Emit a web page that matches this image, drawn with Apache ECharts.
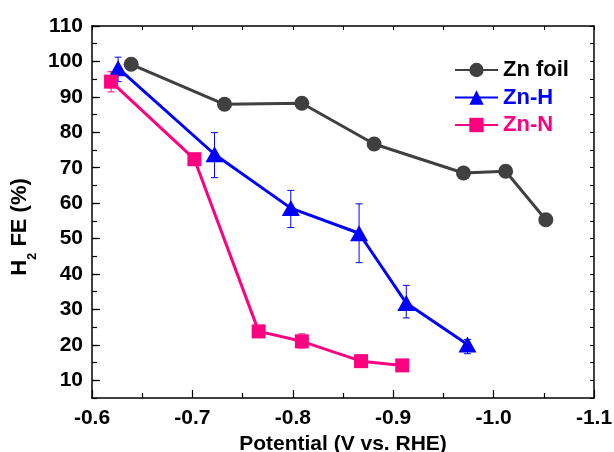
<!DOCTYPE html>
<html><head><meta charset="utf-8">
<script src="https://cdn.jsdelivr.net/npm/echarts@6/dist/echarts.min.js"></script>
<style>html,body{margin:0;padding:0;background:#fff}#c{width:614px;height:452px}</style>
</head><body><div id="c"></div>
<script>
// ---- data ----
const seriesNames = ['Zn foil', 'Zn-H', 'Zn-N'];
const foilX = [-0.639, -0.732, -0.809, -0.881, -0.970, -1.012, -1.052];
const foilY = [99.2, 87.9, 88.2, 76.7, 68.5, 69.0, 55.3];
const zhX = [-0.626, -0.722, -0.798, -0.866, -0.913, -0.974];
const zhY = [98.1, 73.8, 58.6, 51.5, 31.8, 20.1];
const zhErrHi = [101.2, 79.9, 63.6, 59.8, 36.8, 21.5];
const zhErrLo = [94.3, 67.2, 53.1, 43.2, 27.6, 17.5];
const znX = [-0.619, -0.702, -0.766, -0.809, -0.868, -0.909];
const znY = [94.3, 72.4, 23.8, 21.0, 15.4, 14.2];
const znErrHi = [97.1, 73.4, 24.8, 23.1, 16.0, 14.8];
const znErrLo = [91.4, 71.4, 22.8, 19.1, 14.8, 13.6];
const xTickLabels = ['-0.6', '-0.7', '-0.8', '-0.9', '-1.0', '-1.1'];
const yTickLabels = ['10', '20', '30', '40', '50', '60', '70', '80', '90', '100', '110'];
const X_MIN = -1.1, X_MAX = -0.6;
const Y_MIN = 5, Y_MAX = 110;

// ---- styles ----
const FONT = '"Liberation Sans", Arial, sans-serif';
const cGray = '#404040', cBlue = '#0000ff', cPink = '#ff0080';

function lookup(labels, v) {
  for (const l of labels) { if (Math.abs(parseFloat(l) - v) < 1e-6) return l; }
  return '';
}

function errSeries(xs, lo, hi, color) {
  return {
    type: 'custom', xAxisIndex: 0, yAxisIndex: 0, z: 1, silent: true,
    data: xs.map((x, i) => [x, lo[i], hi[i]]),
    encode: { x: 0, y: [1, 2] },
    renderItem(params, api) {
      const x = api.value(0);
      const p1 = api.coord([x, api.value(1)]);
      const p2 = api.coord([x, api.value(2)]);
      const w = 3.5;
      const st = { stroke: color, lineWidth: 1 };
      return { type: 'group', children: [
        { type: 'line', shape: { x1: p1[0], y1: p1[1], x2: p2[0], y2: p2[1] }, style: st },
        { type: 'line', shape: { x1: p1[0] - w, y1: p1[1], x2: p1[0] + w, y2: p1[1] }, style: st },
        { type: 'line', shape: { x1: p2[0] - w, y1: p2[1], x2: p2[0] + w, y2: p2[1] }, style: st }
      ]};
    }
  };
}

function lineSeries(name, xs, ys, color, symbol, size) {
  return {
    name, type: 'line', xAxisIndex: 0, yAxisIndex: 0, z: 3,
    data: xs.map((x, i) => [x, ys[i]]),
    symbol, symbolSize: size, showSymbol: true,
    itemStyle: { color },
    lineStyle: { color, width: 3 }
  };
}

const axisLineStyle = { color: '#000', width: 1.5 };

const chart = echarts.init(document.getElementById('c'), null, { renderer: 'canvas' });
chart.setOption({
  animation: false,
  backgroundColor: '#fff',
  grid: { left: 92, right: 20, top: 26, bottom: 54, containLabel: false, outerBoundsMode: 'none' },
  xAxis: [
    {
      type: 'value', position: 'bottom', min: X_MIN, max: X_MAX, interval: 0.1, inverse: true,
      axisLine: { show: true, onZero: false, lineStyle: axisLineStyle },
      axisTick: { show: true, inside: true, length: 8, lineStyle: { color: '#000', width: 1.2 } },
      minorTick: { show: true, splitNumber: 2, length: 5, lineStyle: { color: '#000', width: 1.2 } },
      splitLine: { show: false },
      axisLabel: { show: true, margin: 10, color: '#000', fontSize: 21, fontWeight: 'bold', fontFamily: FONT,
        formatter: v => lookup(xTickLabels, v) },
      name: 'Potential (V vs. RHE)', nameLocation: 'middle', nameGap: 33,
      nameTextStyle: { color: '#000', fontSize: 21, fontWeight: 'bold', fontFamily: FONT }
    },
    {
      type: 'value', position: 'top', min: X_MIN, max: X_MAX, interval: 0.05, inverse: true,
      axisLine: { show: true, onZero: false, lineStyle: axisLineStyle },
      axisTick: { show: true, inside: true, length: 4, lineStyle: { color: '#000', width: 1 } },
      splitLine: { show: false }, axisLabel: { show: false }
    }
  ],
  yAxis: [
    {
      type: 'value', position: 'left', min: Y_MIN, max: Y_MAX, interval: 5,
      axisLine: { show: true, onZero: false, lineStyle: axisLineStyle },
      axisTick: { show: true, inside: true, length: 5, lineStyle: { color: '#000', width: 1.2 } },
      splitLine: { show: false }, axisLabel: { show: false }
    },
    {
      // decoration axis: major ticks + labels (value measured down from the top)
      type: 'value', position: 'left', min: 0, max: Y_MAX - Y_MIN, interval: 10, inverse: true,
      axisLine: { show: false },
      axisTick: { show: true, inside: true, length: 8, lineStyle: { color: '#000', width: 1.2 } },
      splitLine: { show: false },
      axisLabel: { show: true, margin: 9, color: '#000', fontSize: 21, fontWeight: 'bold', fontFamily: FONT,
        showMaxLabel: false, formatter: v => lookup(yTickLabels, Y_MAX - v) }
    },
    {
      type: 'value', position: 'right', min: Y_MIN, max: Y_MAX, interval: 5,
      axisLine: { show: true, onZero: false, lineStyle: axisLineStyle },
      axisTick: { show: true, inside: true, length: 4, lineStyle: { color: '#000', width: 1 } },
      splitLine: { show: false }, axisLabel: { show: false }
    }
  ],
  legend: {
    orient: 'vertical', left: 449, top: 54, itemWidth: 43, itemHeight: 18, itemGap: 5.5,
    textStyle: { fontSize: 22, fontWeight: 'bold', fontFamily: FONT, lineHeight: 22 },
    data: [
      { name: seriesNames[0], textStyle: { color: '#000' } },
      { name: seriesNames[1], textStyle: { color: cBlue } },
      { name: seriesNames[2], textStyle: { color: cPink } }
    ]
  },
  graphic: [{
    type: 'text', x: 24, y: 227, rotation: Math.PI / 2,
    style: {
      text: '{a|H}{s|2}{a| FE (%)}',
      align: 'center', verticalAlign: 'middle',
      rich: {
        a: { fontSize: 22, fontWeight: 'bold', fontFamily: FONT, fill: '#000', lineHeight: 30, verticalAlign: 'top' },
        s: { fontSize: 13, fontWeight: 'bold', fontFamily: FONT, fill: '#000', lineHeight: 30, verticalAlign: 'bottom' }
      }
    }
  }],
  series: [
    errSeries(zhX, zhErrLo, zhErrHi, cBlue),
    errSeries(znX, znErrLo, znErrHi, cPink),
    lineSeries(seriesNames[0], foilX, foilY, cGray, 'circle', 15),
    lineSeries(seriesNames[1], zhX, zhY, cBlue, 'triangle', [18, 16]),
    lineSeries(seriesNames[2], znX, znY, cPink, 'rect', 14)
  ]
});
</script>
</body></html>
